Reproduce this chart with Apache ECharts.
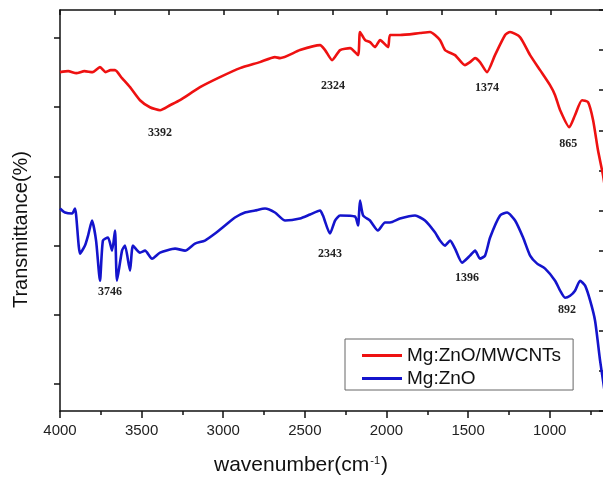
<!DOCTYPE html>
<html>
<head>
<meta charset="utf-8">
<script src="https://cdn.jsdelivr.net/npm/echarts@6/dist/echarts.min.js"></script>
<style>
  html, body { margin: 0; padding: 0; background: #fff; }
  #chart { width: 603px; height: 477px; }
</style>
</head>
<body>
<div id="chart"></div>
<script>
// Mg:ZnO/MWCNTs spectrum (wavenumber, transmittance a.u.)
const redWavenumber = [4000, 3950, 3900, 3850, 3800, 3755, 3720, 3690, 3663, 3620, 3571, 3510, 3449, 3387, 3326, 3265, 3142, 3020, 2897, 2775, 2683, 2652, 2530, 2407, 2376, 2333, 2284, 2223, 2174, 2162, 2131, 2101, 2070, 2039, 1990, 1978, 1917, 1794, 1733, 1672, 1641, 1580, 1519, 1488, 1457, 1427, 1384, 1335, 1273, 1243, 1182, 1120, 1059, 998, 967, 936, 880, 845, 802, 765, 734, 704, 673, 655];
const redTransmittance = [338, 339, 337, 339, 338, 343, 338, 340, 340, 332, 323, 310, 303, 300, 305, 310, 323, 333, 342, 348, 353, 352, 360, 365, 360, 350, 360, 362, 355, 378, 370, 368, 363, 370, 363, 375, 375, 377, 378, 370, 360, 355, 345, 348, 352, 348, 338, 355, 375, 378, 373, 355, 340, 325, 315, 300, 283, 295, 310, 308, 290, 260, 235, 215];

// Mg:ZnO spectrum
const blueWavenumber = [4000, 3969, 3926, 3908, 3877, 3847, 3828, 3804, 3779, 3755, 3737, 3706, 3681, 3663, 3651, 3620, 3602, 3571, 3553, 3510, 3479, 3436, 3387, 3295, 3234, 3173, 3112, 3050, 2989, 2928, 2867, 2805, 2744, 2683, 2621, 2530, 2468, 2407, 2389, 2346, 2315, 2284, 2193, 2174, 2162, 2143, 2101, 2052, 2009, 1978, 1917, 1825, 1764, 1702, 1672, 1641, 1610, 1580, 1537, 1488, 1457, 1427, 1396, 1365, 1304, 1261, 1212, 1163, 1120, 1077, 1028, 967, 936, 906, 875, 845, 814, 783, 752, 722, 691, 673, 655];
const blueTransmittance = [202, 198, 197, 202, 157, 165, 175, 190, 170, 130, 170, 173, 160, 180, 130, 160, 165, 140, 165, 158, 160, 152, 158, 162, 160, 167, 170, 177, 185, 193, 198, 200, 202, 198, 190, 192, 196, 200, 195, 177, 190, 195, 194, 185, 210, 195, 190, 180, 188, 188, 192, 195, 190, 178, 170, 165, 170, 162, 148, 155, 160, 152, 155, 173, 195, 198, 190, 173, 155, 147, 142, 130, 120, 113, 115, 120, 130, 125, 110, 90, 50, 30, 10];

// peak annotations: label, anchor wavenumber, anchor transmittance
const redPeaks = [['3392', 3387, 277], ['2324', 2327, 324], ['1374', 1384, 322], ['865', 887, 266]];
const bluePeaks = [['3746', 3694, 119], ['2343', 2346, 157], ['1396', 1506, 133], ['892', 894, 101]];

const xLabels = [1000, 1500, 2000, 2500, 3000, 3500, 4000];
const xMinorTicks = [750, 1250, 1750, 2250, 2750, 3250, 3750];
const yTicks = [27, 96, 165, 234, 303, 372];

const zip = (a, b) => a.map((v, i) => [v, b[i]]);

const peakMarks = (list) => ({
  symbol: 'circle',
  symbolSize: 0,
  silent: true,
  label: {
    show: true,
    position: 'inside',
    formatter: '{b}',
    fontFamily: 'Liberation Serif',
    fontWeight: 'bold',
    fontSize: 12,
    color: '#222'
  },
  data: list.map(p => ({ name: p[0], coord: [p[1], p[2]], value: p[0] }))
});

const chart = echarts.init(document.getElementById('chart'), null, { renderer: 'canvas' });

const axisLine = { show: true, lineStyle: { color: '#111', width: 1.5 } };

const option = {
  animation: false,
  backgroundColor: '#fff',
  grid: { left: 60, top: 10, right: -3, bottom: 66, outerBoundsMode: 'none', containLabel: false },
  legend: {
    orient: 'vertical',
    left: 345,
    top: 339,
    data: ['Mg:ZnO/MWCNTs', 'Mg:ZnO'],
    icon: 'rect',
    itemWidth: 40,
    itemHeight: 3,
    itemGap: 2,
    itemTextGap: 8,
    padding: [6, 12, 1, 17],
    backgroundColor: '#fff',
    borderColor: '#666',
    borderWidth: 1,
    textStyle: { fontFamily: 'Liberation Sans', fontSize: 19, lineHeight: 21, color: '#111' }
  },
  xAxis: [
    {
      type: 'value',
      inverse: true,
      min: 655,
      max: 4000,
      position: 'bottom',
      axisLine: axisLine,
      axisTick: { show: true, inside: false, length: 7, customValues: xLabels, lineStyle: { color: '#111', width: 1.5 } },
      axisLabel: { customValues: xLabels, formatter: v => String(v), fontFamily: 'Liberation Sans', fontSize: 15, color: '#222', margin: 12 },
      splitLine: { show: false },
      name: '{a|wavenumber(cm}{s|-1}{a|)}',
      nameLocation: 'middle',
      nameGap: 44,
      nameTextStyle: {
        padding: [0, 64, 0, 0],
        rich: {
          a: { fontFamily: 'Liberation Sans', fontSize: 21, color: '#111' },
          s: { fontFamily: 'Liberation Sans', fontSize: 11, color: '#111', verticalAlign: 'top', padding: [0, 1, 10, 1] }
        }
      }
    },
    {
      type: 'value',
      inverse: true,
      min: 655,
      max: 4000,
      position: 'bottom',
      axisLine: { show: false },
      axisTick: { show: true, inside: false, length: 4, customValues: xMinorTicks, lineStyle: { color: '#111', width: 1.5 } },
      axisLabel: { show: false },
      splitLine: { show: false }
    },
    {
      type: 'value',
      min: 0,
      max: 10.02,
      interval: 1,
      position: 'top',
      axisLine: axisLine,
      axisTick: { show: true, inside: true, length: 5, lineStyle: { color: '#111', width: 1.5 } },
      axisLabel: { show: false },
      splitLine: { show: false }
    }
  ],
  yAxis: [
    {
      type: 'value',
      min: 0,
      max: 400,
      position: 'left',
      axisLine: axisLine,
      axisTick: { show: true, inside: false, length: 6, customValues: yTicks, lineStyle: { color: '#111', width: 1.5 } },
      axisLabel: { show: false },
      splitLine: { show: false },
      name: 'Transmittance(%)',
      nameLocation: 'middle',
      nameGap: 29,
      nameTextStyle: { fontFamily: 'Liberation Sans', fontSize: 20, color: '#111', padding: [0, 38, 0, 0] }
    },
    {
      type: 'value',
      min: 0,
      max: 10,
      interval: 1,
      position: 'right',
      axisLine: axisLine,
      axisTick: { show: true, inside: true, length: 7, lineStyle: { color: '#111', width: 1.5 } },
      axisLabel: { show: false },
      splitLine: { show: false }
    }
  ],
  series: [
    {
      name: 'Mg:ZnO/MWCNTs',
      type: 'line',
      xAxisIndex: 0,
      yAxisIndex: 0,
      data: zip(redWavenumber, redTransmittance),
      showSymbol: false,
      smooth: 0.2,
      color: '#ee1111',
      lineStyle: { width: 2.6, color: '#ee1111' },
      markPoint: peakMarks(redPeaks)
    },
    {
      name: 'Mg:ZnO',
      type: 'line',
      xAxisIndex: 0,
      yAxisIndex: 0,
      data: zip(blueWavenumber, blueTransmittance),
      showSymbol: false,
      smooth: 0.2,
      color: '#1414cc',
      lineStyle: { width: 2.6, color: '#1414cc' },
      markPoint: peakMarks(bluePeaks)
    }
  ]
};

chart.setOption(option);
</script>
</body>
</html>
